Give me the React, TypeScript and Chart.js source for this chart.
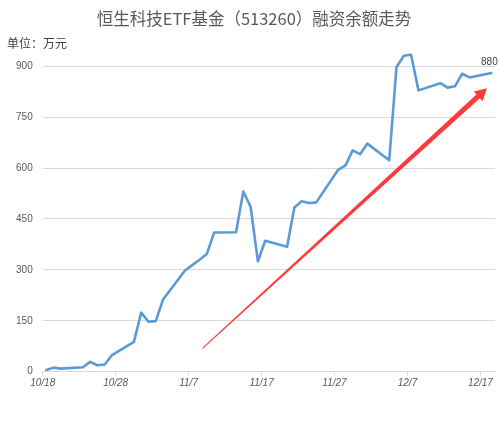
import React, { useEffect, useRef } from "react";
import { Chart, registerables } from "chart.js";

Chart.register(...registerables);

const titleText = "恒生科技ETF基金（513260）融资余额走势";
const unitText = "单位：万元";

const dates = [
  "10/18", "10/19", "10/20", "10/23", "10/24", "10/25", "10/26", "10/27", "10/30", "10/31",
  "11/1", "11/2", "11/3", "11/6", "11/7", "11/8", "11/9", "11/10", "11/13", "11/14",
  "11/15", "11/16", "11/17", "11/20", "11/21", "11/22", "11/23", "11/24", "11/27", "11/28",
  "11/29", "11/30", "12/1", "12/4", "12/5", "12/6", "12/7", "12/8", "12/11", "12/12",
  "12/13", "12/14", "12/15", "12/18",
];

const balances = [
  5, 12, 9, 13, 29, 19, 21, 49, 88, 174,
  147, 149, 213, 298, 314, 330, 347, 410, 411, 531,
  486, 325, 386, 368, 484, 502, 497, 499, 595, 608,
  652, 641, 672, 623, 898, 931, 934, 829, 850, 837,
  841, 878, 867, 880,
];

const xTickLabels = ["10/18", "10/28", "11/7", "11/17", "11/27", "12/7", "12/17"];
const yTickValues = [0, 150, 300, 450, 600, 750, 900];

// trend arrow, in data units: [day offset from 10/18, value]
const arrowFrom = [21.9, 69];
const arrowTo = [60.9, 835];

const YEAR = 2023;
const dayOffset = (s: string) => {
  const [m, d] = s.split("/").map(Number);
  return (Date.UTC(YEAR, m - 1, d) - Date.UTC(YEAR, 9, 18)) / 86400000;
};

const overlayPlugin = {
  id: "overlay",
  afterDraw(chart: any) {
    const ctx = chart.ctx;
    const xs = chart.scales.x;
    const ys = chart.scales.y;
    ctx.save();
    // title
    ctx.fillStyle = "#595959";
    ctx.font = '16.5px "Noto Sans CJK SC"';
    ctx.textAlign = "center";
    ctx.textBaseline = "middle";
    ctx.fillText(titleText, 254, 19);
    // unit
    ctx.fillStyle = "#404040";
    ctx.font = '12px "Noto Sans CJK SC"';
    ctx.textAlign = "left";
    ctx.fillText(unitText, 7, 43);

    // arrow
    const x0 = xs.getPixelForValue(arrowFrom[0]);
    const y0 = ys.getPixelForValue(arrowFrom[1]);
    const x1 = xs.getPixelForValue(arrowTo[0]);
    const y1 = ys.getPixelForValue(arrowTo[1]);
    const dx = x1 - x0, dy = y1 - y0;
    const len = Math.hypot(dx, dy);
    const ux = dx / len, uy = dy / len;
    const nx = -uy, ny = ux;
    const headLen = 12, headW = 6.5, w0 = 0.5, w1 = 2.6;
    const bx = x1 - ux * headLen, by = y1 - uy * headLen;
    ctx.fillStyle = "#ff3a3a";
    ctx.beginPath();
    ctx.moveTo(x0 + nx * w0, y0 + ny * w0);
    ctx.lineTo(bx + nx * w1, by + ny * w1);
    ctx.lineTo(bx + nx * headW, by + ny * headW);
    ctx.lineTo(x1, y1);
    ctx.lineTo(bx - nx * headW, by - ny * headW);
    ctx.lineTo(bx - nx * w1, by - ny * w1);
    ctx.lineTo(x0 - nx * w0, y0 - ny * w0);
    ctx.closePath();
    ctx.fill();

    // last value label
    const meta = chart.getDatasetMeta(0);
    const last = meta.data[meta.data.length - 1];
    ctx.fillStyle = "#404040";
    ctx.font = '10px "Liberation Sans"';
    ctx.textAlign = "center";
    ctx.textBaseline = "middle";
    ctx.fillText(String(balances[balances.length - 1]), last.x - 2, last.y - 11);
    ctx.restore();
  },
};

export default function App() {
  const ref = useRef<HTMLCanvasElement>(null);
  useEffect(() => {
    document.body.style.margin = "0";
    const chart = new Chart(ref.current!, {
      type: "line",
      data: {
        datasets: [
          {
            data: dates.map((d, i) => ({ x: dayOffset(d) + 0.5, y: balances[i] })),
            borderColor: "#5b9bd5",
            borderWidth: 2.6,
            pointRadius: 0,
            tension: 0,
            borderJoinStyle: "round",
            borderCapStyle: "round",
            fill: false,
          },
        ],
      },
      options: {
        animation: false,
        responsive: true,
        maintainAspectRatio: false,
        layout: { padding: { top: 49.3, right: 9, left: 0, bottom: 0 } },
        plugins: {
          legend: { display: false },
          title: { display: false },
          tooltip: { enabled: false },
        },
        scales: {
          x: {
            type: "linear",
            min: 0,
            max: 62,
            afterBuildTicks: (s: any) => {
              s.ticks = xTickLabels.map((_, i) => ({ value: i * 10 }));
            },
            afterFit: (s: any) => {
              s.height = 54.3;
            },
            ticks: {
              autoSkip: false,
              maxRotation: 0,
              padding: 2,
              color: "#595959",
              font: { family: "Liberation Sans", size: 10, style: "italic" },
              callback: (v: any) => xTickLabels[Math.round(Number(v) / 10)] ?? "",
            },
            grid: { drawOnChartArea: false, drawTicks: true, tickLength: 4, color: "#d9d9d9" },
            border: { display: true, color: "#d9d9d9" },
          },
          y: {
            min: 0,
            max: 950,
            afterBuildTicks: (s: any) => {
              s.ticks = yTickValues.map((v) => ({ value: v }));
            },
            afterFit: (s: any) => {
              s.width = 42.7;
            },
            ticks: {
              padding: 10,
              color: "#595959",
              font: { family: "Liberation Sans", size: 10 },
            },
            grid: { color: "#d9d9d9", drawTicks: false },
            border: { display: false },
          },
        },
      },
      plugins: [overlayPlugin],
    });
    return () => chart.destroy();
  }, []);
  return (
    <div style={{ width: 504, height: 426, position: "relative" }}>
      <canvas ref={ref} />
    </div>
  );
}
